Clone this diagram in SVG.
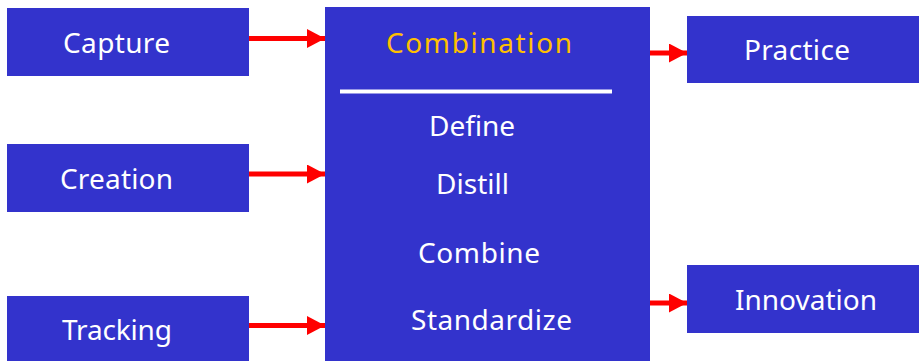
<svg xmlns="http://www.w3.org/2000/svg" width="919" height="361" viewBox="0 0 919 361">
<style>
.box{fill:#3333CC;}
.t{font-family:"Noto Sans","Open Sans","DejaVu Sans",sans-serif;font-size:28px;fill:#FFFFFF;}
.title{fill:#FFC000;}
.arr{stroke:#FF0000;stroke-width:5;fill:none;}
</style>
<defs>
<marker id="ah" markerUnits="userSpaceOnUse" markerWidth="18" markerHeight="19" refX="18" refY="9.5" orient="auto">
<path d="M0,0 L18,9.5 L0,19 Z" fill="#FF0000"/>
</marker>
</defs>
<rect width="919" height="361" fill="#FFFFFF"/>
<g id="capture"><rect class="box" x="7" y="8" width="242" height="68"/><text class="t" x="63" y="53" textLength="107">Capture</text></g>
<g id="creation"><rect class="box" x="7" y="144" width="242" height="68"/><text class="t" x="60" y="189" textLength="113">Creation</text></g>
<g id="tracking"><rect class="box" x="7" y="296" width="242" height="65"/><text class="t" x="62" y="340" textLength="110">Tracking</text></g>
<g id="combination"><rect class="box" x="325" y="7" width="325" height="354"/>
<text class="t title" x="386" y="53" textLength="186">Combination</text>
<line x1="340" y1="91.5" x2="612" y2="91.5" stroke="#FFFFFF" stroke-width="4"/>
<text class="t" x="429" y="136" textLength="86">Define</text>
<text class="t" x="436" y="194" textLength="73">Distill</text>
<text class="t" x="418" y="263" textLength="122">Combine</text>
<text class="t" x="411" y="330" textLength="161">Standardize</text>
</g>
<g id="practice"><rect class="box" x="687" y="16" width="232" height="67"/><text class="t" x="744" y="60" textLength="106">Practice</text></g>
<g id="innovation"><rect class="box" x="687" y="265" width="232" height="68"/><text class="t" x="735" y="310" textLength="142">Innovation</text></g>
<g id="connectors">
<line class="arr" x1="249" y1="38.5" x2="325" y2="38.5" marker-end="url(#ah)"/>
<line class="arr" x1="249" y1="174" x2="325" y2="174" marker-end="url(#ah)"/>
<line class="arr" x1="249" y1="325.5" x2="325" y2="325.5" marker-end="url(#ah)"/>
<line class="arr" x1="650" y1="53" x2="687" y2="53" marker-end="url(#ah)"/>
<line class="arr" x1="650" y1="303" x2="687" y2="303" marker-end="url(#ah)"/>
</g>
</svg>
